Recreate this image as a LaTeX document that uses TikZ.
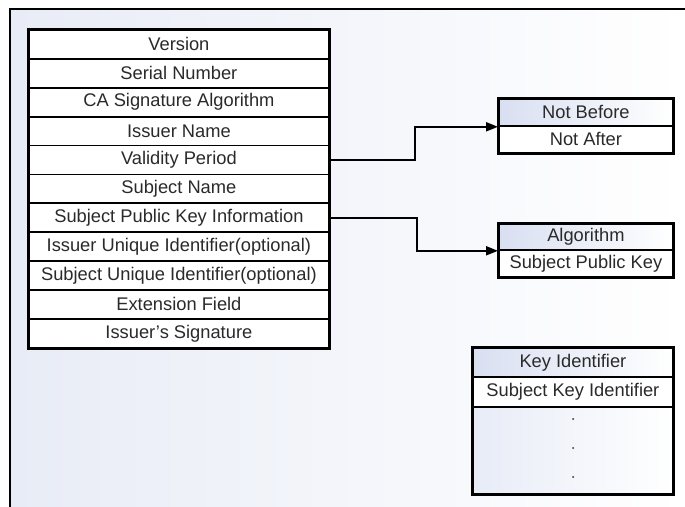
\documentclass[tikz,border=0pt]{standalone}
\usepackage{fontspec}
\setmainfont{Liberation Sans}
\usetikzlibrary{arrows.meta}
\definecolor{txt}{HTML}{2A2A2A}
\definecolor{bgl}{HTML}{E8ECF6}
\definecolor{hdr}{HTML}{D8DFF1}
\newcommand{\rowfont}{\fontsize{18.3}{20}\selectfont}
\begin{document}
\begin{tikzpicture}[x=1pt,y=-1pt,
  cell/.style={draw=black, line width=1.8pt, fill=white, inner sep=0pt,
    text=txt, font=\rowfont, anchor=north west},
  mainrow/.style={cell, minimum width=300pt, minimum height=28.9pt},
  hdrcell/.style={cell, left color=hdr, right color=white},
  frameline/.style={line width=2.8pt},
  arr/.style={line width=1.8pt, -{Triangle[length=12pt,width=9pt]}}]
\useasboundingbox (0,0) rectangle (685,506);
% background and frame
\begin{scope}
\clip (0,0) rectangle (685,506);
\fill[bgl!50] (10,9) rectangle (700,540);
\shade[left color=bgl, right color=white] (10,9) rectangle (685,506);
\end{scope}
\draw[frameline] (10,545) -- (10,9) -- (700,9);
% main table
\foreach \t [count=\i from 0] in {Version, Serial Number, CA Signature Algorithm,
  Issuer Name, Validity Period, Subject Name, Subject Public Key Information,
  Issuer Unique Identifier(optional), Subject Unique Identifier(optional),
  Extension Field, Issuer's Signature}
  \node[mainrow, name=r\i] at (28,{29+28.9*\i}) {\t};
\draw[frameline] (r0.north west) rectangle (r10.south east);
% validity box
\node[hdrcell, minimum width=174pt, minimum height=27pt] (nb) at (498,98) {Not Before};
\node[cell, minimum width=174pt, minimum height=27pt] (na) at (498,125) {Not After};
\draw[frameline] (nb.north west) rectangle (na.south east);
% key box
\node[hdrcell, minimum width=174pt, minimum height=26pt] (alg) at (498,223) {Algorithm};
\node[cell, minimum width=174pt, minimum height=27pt] (spk) at (498,249) {Subject Public Key};
\draw[frameline] (alg.north west) rectangle (spk.south east);
% extension box
\node[hdrcell, minimum width=200pt, minimum height=29pt] (ki) at (472,347) {Key Identifier};
\node[cell, minimum width=200pt, minimum height=30pt] (ski) at (472,376) {Subject Key Identifier};
\node[cell, left color=hdr!60, right color=white, minimum width=200pt, minimum height=87pt] (rest) at (472,406) {};
\draw[frameline] (ki.north west) rectangle (rest.south east);
\foreach \yy in {419,448,477}
  \fill[txt] (573,\yy) circle (1pt);
% connectors
\draw[arr] (r4.east) -- ++(85,0) |- (nb.south west);
\draw[arr] (r6.east) -- ++(87,0) |- (alg.south west);
\end{tikzpicture}
\end{document}
